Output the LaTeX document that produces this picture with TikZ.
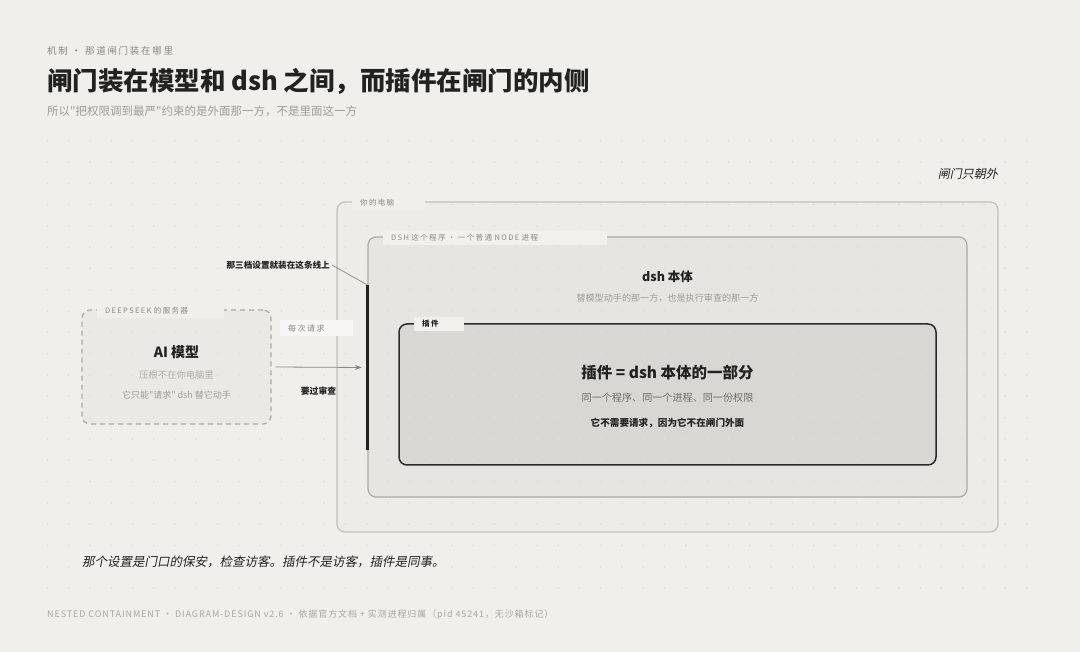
\documentclass[tikz,border=0pt]{standalone}
\usepackage{fontspec}
\setmainfont{Noto Sans CJK SC}[AutoFakeSlant=0.2,Ligatures=TeXOff]
\newfontfamily\tagfont{Noto Sans CJK SC}[LetterSpace=18,Ligatures=TeXOff]
\newfontfamily\footfont{Noto Sans CJK SC}[LetterSpace=10,Ligatures=TeXOff]
\usetikzlibrary{arrows.meta,positioning}
\definecolor{paper}{HTML}{F0EFEB}
\definecolor{dotc}{HTML}{E0DFDA}
\definecolor{pcfill}{HTML}{EDECE8}
\definecolor{pcline}{HTML}{C0BFBB}
\definecolor{dshfill}{HTML}{E6E5E1}
\definecolor{dshline}{HTML}{ABAAA6}
\definecolor{plugfill}{HTML}{D8D7D3}
\definecolor{plugline}{HTML}{2B2B2B}
\definecolor{aifill}{HTML}{EAE9E5}
\definecolor{ailine}{HTML}{A9A8A4}
\definecolor{tagfill}{HTML}{F1F0EC}
\definecolor{tagtext}{HTML}{8A8985}
\definecolor{ink}{HTML}{222222}
\definecolor{softink}{HTML}{9E9D99}
\definecolor{midink}{HTML}{6E6D69}
\definecolor{flowc}{HTML}{8A8A86}
\tikzset{
	frame/.style={rectangle,rounded corners=8pt,inner sep=0pt},
	tag/.style={anchor=west,fill=tagfill,inner xsep=8pt,inner ysep=0pt,minimum height=14pt,text=tagtext,align=left,font=\tagfont\fontsize{7.5}{9}\selectfont},
	heading/.style={inner sep=0pt,text=ink,font=\bfseries\fontsize{#1}{#1}\selectfont},
	note/.style={inner sep=0pt,text=softink,font=\fontsize{#1}{#1}\selectfont},
	flow/.style={draw=flowc,line width=0.8pt,-{Stealth[length=7pt,width=5pt]}},
}
\begin{document}
\begin{tikzpicture}[x=1pt,y=-1pt]
	\useasboundingbox (0,0) rectangle (1080,652);
	\fill[paper] (0,0) rectangle (1080,652);
	\node[frame,draw=pcline,fill=pcfill,line width=1.2pt,minimum width=661,minimum height=330] (pc) at (667.5,367) {};
	\node[frame,draw=dshline,fill=dshfill,line width=1.2pt,minimum width=599,minimum height=260] (dsh) at (667.5,367) {};
	\node[frame,draw=plugline,fill=plugfill,line width=1.5pt,minimum width=537,minimum height=141] (plugin) at (667.5,394.5) {};
	\node[frame,draw=ailine,fill=aifill,line width=1.2pt,dash pattern=on 5pt off 4pt,minimum width=189,minimum height=114] (ai) at (176.5,367) {};
	\foreach \i in {0,...,46}{
		\foreach \j in {0,...,21}{
			\fill[dotc] (47.3+\i*21.29,140.7+\j*21.3) circle (0.9);
		}
	}
	\node[fill=ink,inner sep=0pt,minimum width=3,minimum height=165] (gate) at (367,367.5) {};
	\draw[flow,shorten >=3.5pt] ([xshift=4pt]ai.east) -- (gate.west);
	\node[heading=8.6,anchor=east,inner sep=2pt] (gatenote) at (332,265) {那三档设置就装在这条线上};
	\draw[draw=flowc,line width=0.7pt] (gatenote.east) -- (gate.north);
	\node[tag,fill=paper,text width=57pt] (pctag) at (352,203) {你的电脑};
	\node[tag,text width=208pt] (dshtag) at (383,238) {DSH 这个程序 · 一个普通 NODE 进程};
	\node[tag,text width=34pt,text=ink,font=\tagfont\bfseries\fontsize{7.5}{9}\selectfont] (plugtag) at (414,324) {插件};
	\node[tag,fill=paper,text width=111pt] (aitag) at (97,311) {DEEPSEEK 的服务器};
	\node[tag,fill=tagfill!60!white,text width=57pt,minimum height=16pt,font=\tagfont\fontsize{8}{9}\selectfont] (reqtag) at (280,328) {每次请求};
	\node[heading=8.8] (review) at (318.5,391) {要过审查};
	\node[heading=14] (aititle) at (176.5,352) {AI 模型};
	\node[note=9.3,text=softink!85!white] (ailine1) at (176.5,375) {压根不在你电脑里};
	\node[note=9] (ailine2) at (176.5,395) {它只能"请求" dsh 替它动手};
	\node[heading=12.5] (dshtitle) at (667.5,277) {dsh 本体};
	\node[note=9.1] (dshline1) at (667.5,298) {替模型动手的那一方，也是执行审查的那一方};
	\node[heading=15.5] (plugtitle) at (667.5,373) {插件 = dsh 本体的一部分};
	\node[note=10.1,text=midink] (plugline1) at (667.5,398) {同一个程序、同一个进程、同一份权限};
	\node[heading=9.6] (plugline2) at (667.5,423) {它不需要请求，因为它不在闸门外面};
	\node[anchor=west,inner sep=0pt,text=tagtext,font=\tagfont\fontsize{9.5}{10}\selectfont] (kicker) at (47,51) {机制 · 那道闸门装在哪里};
	\node[heading=25.5,anchor=west] (title) at (47,81) {闸门装在模型和 dsh 之间，而插件在闸门的内侧};
	\node[note=11.5,anchor=west] (subtitle) at (47,111) {所以"把权限调到最严"约束的是外面那一方，不是里面这一方};
	\node[anchor=east,inner sep=0pt,text=ink,font=\itshape\fontsize{12}{12}\selectfont] (outward) at (998,174) {闸门只朝外};
	\node[anchor=west,inner sep=0pt,text=ink,font=\itshape\fontsize{12.5}{12}\selectfont] (motto) at (82,562) {那个设置是门口的保安，检查访客。插件不是访客，插件是同事。};
	\node[anchor=west,inner sep=0pt,text=softink!90!white,font=\footfont\fontsize{9}{9}\selectfont] (footer) at (47,615) {NESTED CONTAINMENT · DIAGRAM-DESIGN v2.6 · 依据官方文档 + 实测进程归属（pid 45241，无沙箱标记）};
\end{tikzpicture}
\end{document}
